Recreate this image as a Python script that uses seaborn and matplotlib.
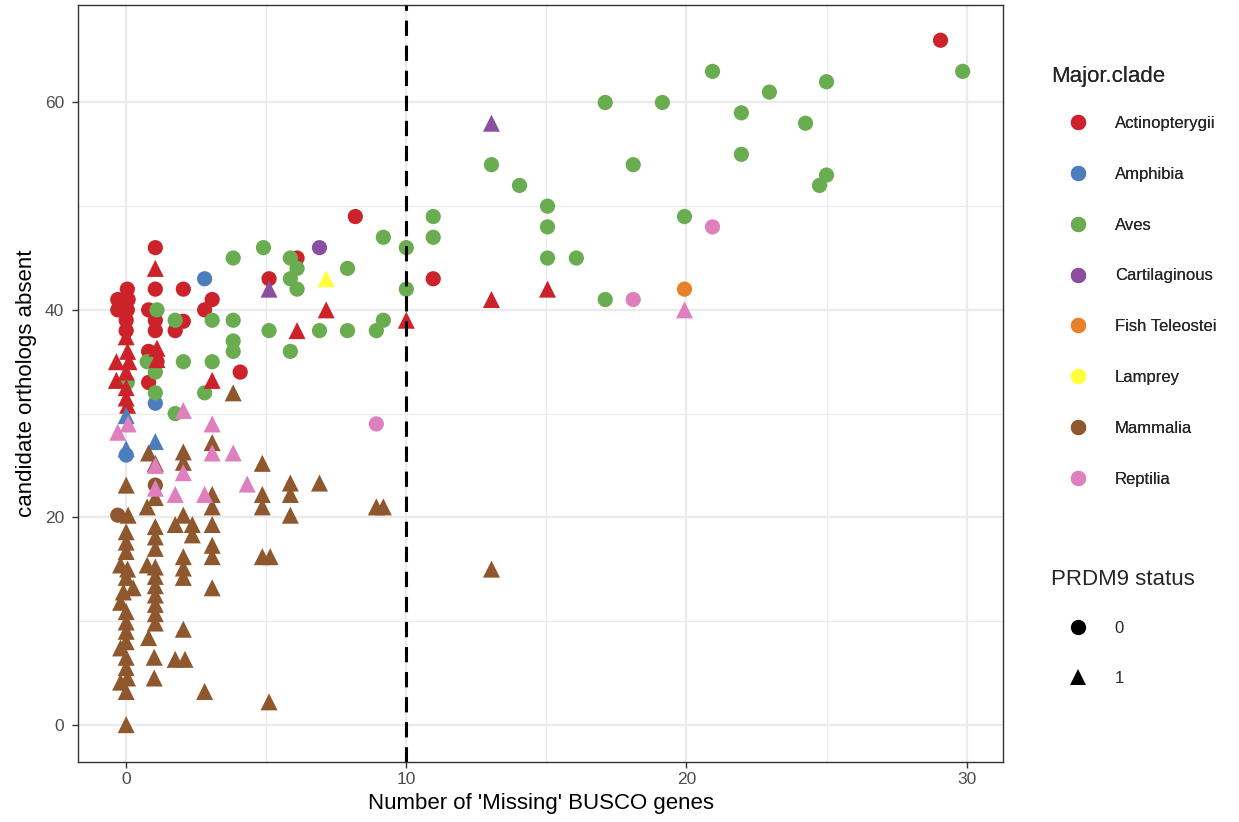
import matplotlib
matplotlib.use("Agg")
import matplotlib.pyplot as plt
import pandas as pd
import seaborn as sns
from matplotlib.lines import Line2D

# ---- data: (missing BUSCO genes, candidate orthologs absent, PRDM9 status) per clade ----
actinopterygii_x = [29.07, 8.18, 10.96, 5.1, 6.1, 1.04, 2.04, 3.07, 2.8, 2.04, 1.75, 4.07,
                    1.04, 0.8, 1.04, 1.04, 0.8, 1.1, 0.8,
                    0.04, -0.3, 0.07, -0.3, 0.04, 0.0, 0.0,
                    7.14, 10.0, 13.04, 15.04, 6.1, 3.07, 1.04, 1.1, 1.1,
                    0.0, 0.05, -0.35, 0.1, 0.0, -0.35, 0.0, 0.0, 0.05]
actinopterygii_y = [66, 49, 43, 43, 45, 46, 42, 41, 40, 38.9, 38, 34,
                    42, 40, 39, 38, 36, 35, 33,
                    42, 41, 41, 40, 40, 39, 38,
                    40, 39, 41, 42, 38, 33.2, 44, 36.3, 35.2,
                    37.4, 36, 35, 35, 34, 33.2, 32.5, 31.5, 30.8]
actinopterygii_prdm9 = [0] * 26 + [1] * 18

amphibia_x = [2.8, 1.04, 0.0, 1.04, 0.0, 0.0]
amphibia_y = [43, 31, 26, 27.3, 26.6, 29.8]
amphibia_prdm9 = [0, 0, 0, 1, 1, 1]

aves_x = [20.93, 29.86, 25.0, 22.96, 17.1, 19.14, 21.96, 24.25, 13.04, 18.1, 21.96, 14.04,
          25.0, 24.75, 15.04, 15.04, 19.93, 10.96, 10.96, 9.18, 10.0, 4.9, 15.04, 16.07,
          3.82, 5.86, 6.1, 7.9, 5.86, 6.1, 10.0, 17.1, 9.18, 8.93, 7.9, 6.9, 5.1, 5.86,
          3.82, 3.82, 3.82, 3.07, 1.75, 2.04, 3.07, 2.8, 1.75, 1.1, 0.75, 1.04, 1.04, 0.04]
aves_y = [63, 63, 62, 61, 60, 60, 59, 58, 54, 54, 55, 52,
          53, 52, 50, 48, 49, 49, 47, 47, 46, 46, 45, 45,
          45, 45, 44, 44, 43, 42, 42, 41, 39, 38, 38, 38, 38, 36,
          37, 36, 39, 39, 39, 35, 35, 32, 30, 40, 35, 34, 32, 33]
aves_prdm9 = [0] * len(aves_x)

cartilaginous_x = [6.9, 13.04, 5.1]
cartilaginous_y = [46, 58, 42]
cartilaginous_prdm9 = [0, 1, 1]

teleostei_x = [19.93]
teleostei_y = [42]
teleostei_prdm9 = [0]

lamprey_x = [7.14]
lamprey_y = [43]
lamprey_prdm9 = [1]

mammalia_x = [-0.3, 1.04,
              0.0, 0.07, 0.0, 0.0, 0.0, -0.2, 0.05, 0.0, 0.25, -0.1, -0.2, 0.0, 0.0, 0.0, 0.0,
              -0.2, 0.0, 0.0, -0.2, 0.05, 0.0, 0.0,
              0.8, 1.04, 1.04, 0.75, 1.04, 1.04, 1.04, 0.75, 1.04, 1.04, 1.04, 1.04, 1.04,
              1.04, 1.04, 0.8, 1.0, 1.0,
              2.04, 2.04, 2.04, 1.75, 2.36, 2.36, 2.04, 2.04, 2.04, 2.04, 1.75, 2.1, 2.8,
              3.07, 3.07, 3.07, 3.07, 3.07, 3.07, 3.07, 3.82,
              4.86, 4.86, 4.86, 5.86, 5.86, 5.86, 6.9, 4.86, 5.14, 5.1, 8.93, 9.18, 13.04]
mammalia_y = [20.2, 23.1,
              23.1, 20.2, 18.6, 17.6, 16.7, 15.4, 15, 14.2, 13.2, 12.8, 11.8, 10.9, 9.9, 9, 8,
              7.4, 6.5, 5.5, 4.1, 4.5, 3.2, 0,
              26.2, 25.2, 21.9, 21, 19.1, 18.1, 17, 15.4, 15.2, 14.3, 13.4, 12.5, 11.6,
              10.7, 9.8, 8.4, 6.5, 4.5,
              26.3, 25.3, 20.2, 19.3, 19.3, 18.3, 16.2, 15.1, 14.2, 9.2, 6.3, 6.3, 3.2,
              27.2, 22.2, 21, 19.3, 17.3, 16.2, 13.2, 32,
              25.2, 22.2, 21, 23.3, 22.2, 20.2, 23.3, 16.2, 16.2, 2.2, 21, 21, 15]
mammalia_prdm9 = [0, 0] + [1] * (len(mammalia_x) - 2)

reptilia_x = [20.93, 18.1, 8.93,
              19.93, 2.04, 3.07, 0.07, -0.3, 3.07, 3.82, 2.04, 4.32, 1.75, 2.8, 1.04, 1.04]
reptilia_y = [48, 41, 29,
              40, 30.3, 29, 29, 28.2, 26.2, 26.2, 24.3, 23.2, 22.2, 22.2, 22.8, 25]
reptilia_prdm9 = [0, 0, 0] + [1] * 13

clade_names = ["Actinopterygii", "Amphibia", "Aves", "Cartilaginous",
               "Fish Teleostei", "Lamprey", "Mammalia", "Reptilia"]
clade_colors = ["#CC2229", "#4C7EBE", "#6AAD50", "#8A4FA1",
                "#E8812A", "#FFFF3C", "#8E572D", "#E07FBE"]
status_levels = [0, 1]
status_markers = ["o", "^"]

# ---- assemble a tidy table ----
frames = []
for name, xs, ys, st in [
    ("Actinopterygii", actinopterygii_x, actinopterygii_y, actinopterygii_prdm9),
    ("Amphibia", amphibia_x, amphibia_y, amphibia_prdm9),
    ("Aves", aves_x, aves_y, aves_prdm9),
    ("Cartilaginous", cartilaginous_x, cartilaginous_y, cartilaginous_prdm9),
    ("Fish Teleostei", teleostei_x, teleostei_y, teleostei_prdm9),
    ("Lamprey", lamprey_x, lamprey_y, lamprey_prdm9),
    ("Mammalia", mammalia_x, mammalia_y, mammalia_prdm9),
    ("Reptilia", reptilia_x, reptilia_y, reptilia_prdm9),
]:
    frames.append(pd.DataFrame({"missing": xs, "absent": ys,
                                "Major.clade": name, "PRDM9": st}))
df = pd.concat(frames, ignore_index=True)

# ---- styling ----
sns.set_theme(style="white")
plt.rcParams["font.family"] = ["Liberation Sans", "DejaVu Sans"]

fig = plt.figure(figsize=(12.39, 8.22), dpi=100)
ax = fig.add_axes([78 / 1239, 60 / 822, 925 / 1239, 757 / 822])

palette = dict(zip(clade_names, clade_colors))
point_sizes = {0: 120, 1: 150}

# circles (PRDM9 = 0) and triangles (PRDM9 = 1)
for status, marker in zip(status_levels, status_markers):
    sub = df[df["PRDM9"] == status]
    sns.scatterplot(data=sub, x="missing", y="absent", hue="Major.clade",
                    palette=palette, hue_order=clade_names, marker=marker,
                    s=point_sizes[status], linewidth=0, legend=False, ax=ax, zorder=3)

ax.axvline(10, color="black", lw=2.2, ls=(0, (5, 3.2)), zorder=4)

ax.set_xlim(-1.72, 31.3)
ax.set_ylim(-3.6, 69.4)
ax.set_xticks([0, 10, 20, 30])
ax.set_yticks([0, 20, 40, 60])
ax.set_xticks([5, 15, 25], minor=True)
ax.set_yticks([10, 30, 50], minor=True)
ax.grid(True, which="major", color="#EBEBEB", lw=1.6, zorder=0)
ax.grid(True, which="minor", color="#EBEBEB", lw=0.8, zorder=0)
ax.set_axisbelow(True)
for sp in ax.spines.values():
    sp.set_color("#333333")
    sp.set_linewidth(1.0)
ax.tick_params(axis="both", which="major", direction="out", length=4.5, width=1,
               color="#333333", labelsize=12.5, labelcolor="#4D4D4D", pad=3,
               bottom=True, left=True)
ax.tick_params(axis="y", which="major", pad=5.5)
ax.tick_params(axis="both", which="minor", length=0)
ax.set_xlabel("Number of 'Missing' BUSCO genes", fontsize=16, color="black", labelpad=4)
ax.set_ylabel("candidate orthologs absent", fontsize=16, color="black", labelpad=6)

# ---- legends ----
legend_kw = dict(loc="upper left", frameon=False, fontsize=12, title_fontsize=16,
                 labelspacing=2.15, handlelength=3.28, handletextpad=0.54,
                 alignment="left", borderaxespad=0, borderpad=0)
clade_handles = [Line2D([], [], marker="o", ls="", color=c, markersize=11, markeredgewidth=0)
                 for c in clade_colors]
leg1 = fig.legend(clade_handles, clade_names, title="Major.clade",
                  bbox_to_anchor=(1051 / 1239, 1 - 66 / 822), **legend_kw)
leg1._legend_box.sep = 20.8  # gap between title and first entry (points)
status_handles = [Line2D([], [], marker=m, ls="", color="black", markersize=11,
                         markeredgewidth=0) for m in status_markers]
leg2 = fig.legend(status_handles, [str(s) for s in status_levels], title="PRDM9 status",
                  bbox_to_anchor=(1051 / 1239, 1 - 569 / 822), labelspacing=2.1,
                  **{k: v for k, v in legend_kw.items() if k != "labelspacing"})
leg2._legend_box.sep = 22.4
fig.add_artist(leg1)

fig.savefig("out.png", dpi=100)
